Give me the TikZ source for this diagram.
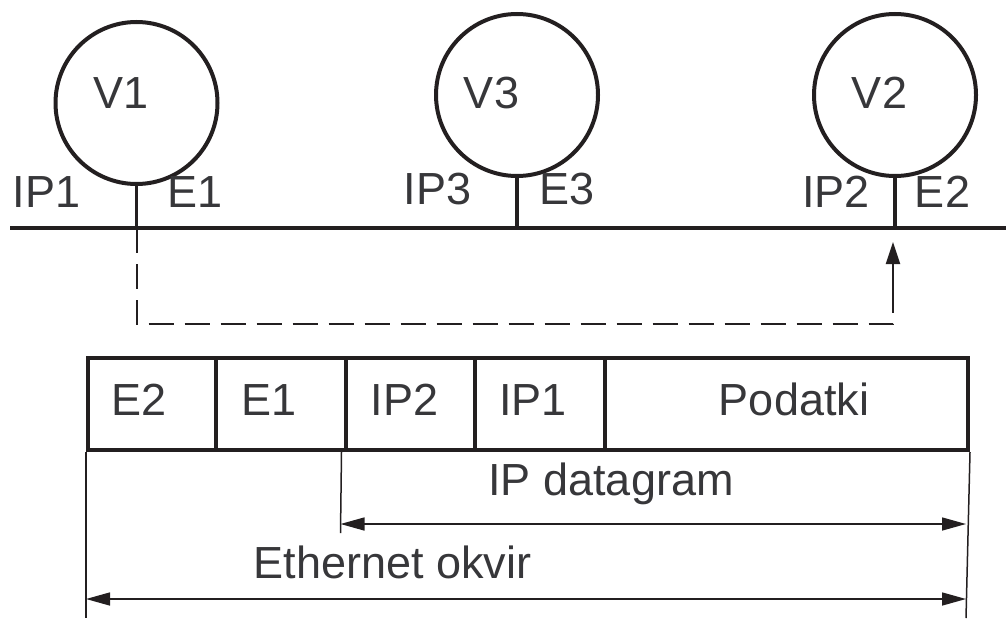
\documentclass[tikz,border=0pt]{standalone}
\usepackage{fontspec}
\setmainfont{Liberation Sans}
\usetikzlibrary{arrows.meta}
\definecolor{ink}{RGB}{35,31,32}
\definecolor{txt}{RGB}{55,55,58}
\tikzset{
  host/.style={circle, draw=ink, line width=4pt, minimum size=162pt, inner sep=0pt},
  lbl/.style={anchor=base, inner sep=0pt, text=txt, font=\fontsize{45}{45}\selectfont},
  field/.style={draw=ink, line width=4pt, minimum height=92pt, inner sep=0pt, anchor=north west},
  busline/.style={draw=ink, line width=4.5pt},
  stem/.style={draw=ink, line width=3.5pt},
  path2/.style={draw=ink, line width=2pt, dash pattern=on 25pt off 11pt},
  dim/.style={draw=ink, line width=1.5pt},
  dimarrow/.style={draw=ink, line width=1.5pt, {Triangle[length=24pt,width=13pt]}-{Triangle[length=24pt,width=13pt]}}
}
\begin{document}
\begin{tikzpicture}[x=1pt, y=-1pt]
\useasboundingbox (0,0) rectangle (1008,618);

% hosts on the segment
\node[host] (v1) at (136.5,103) {};
\node[host] (v3) at (517,95) {};
\node[host] (v2) at (895,95) {};
\node[lbl] (t1) at (121,108) {V1};
\node[lbl] (t3) at (491.5,108) {V3};
\node[lbl] (t2) at (879.5,108) {V2};

% shared Ethernet bus
\coordinate (busL) at (10,228);
\coordinate (busR) at (1006,228);
\draw[busline] (busL) -- (busR);
\coordinate (s1) at (136.5,228);
\coordinate (s3) at (517,228);
\coordinate (s2) at (895,228);
\draw[stem] (v1.south) -- (s1);
\draw[stem] (v3.south) -- (s3);
\draw[stem] (v2.south) -- (s2);

% interface addresses
\node[lbl] (ip1) at (46.5,207) {IP1};
\node[lbl] (e1) at (195.5,207) {E1};
\node[lbl] (ip3) at (437.5,204) {IP3};
\node[lbl] (e3) at (567,204) {E3};
\node[lbl] (ip2) at (836,207) {IP2};
\node[lbl] (e2) at (942.5,207) {E2};

% frame path from V1 to V2
\coordinate (d1) at (136.5,324);
\coordinate (d2) at (893,324);
\coordinate (tip) at (893,242);
\draw[path2] (s1) -- (d1) -- (d2) -- (893,264);
\draw[ink, line width=2pt, -{Triangle[length=22pt,width=14pt]}] (893,288) -- (tip);

% frame fields
\node[field, minimum width=128pt] (f1) at (86,356) {};
\node[field, minimum width=129.5pt] (f2) at (214,356) {};
\node[field, minimum width=129pt] (f3) at (343.5,356) {};
\node[field, minimum width=130.5pt] (f4) at (472.5,356) {};
\node[field, minimum width=363pt] (f5) at (603,356) {};
\node[lbl] (fl1) at (139,415) {E2};
\node[lbl] (fl2) at (269,415) {E1};
\node[lbl] (fl3) at (404.5,415) {IP2};
\node[lbl] (fl4) at (533,415) {IP1};
\node[lbl] (fl5) at (794,415) {Podatki};

% extent markers
\coordinate (m1) at (86,618);
\coordinate (m2) at (340.5,533);
\coordinate (m3) at (966,618);
\draw[dim] (f1.south west) -- (m1);
\draw[dim] (f3.south west) ++(-2,0) -- (m2);
\draw[dim] (f5.south east) -- (m3);
\coordinate (a1) at (340.5,524);
\coordinate (a2) at (966,524);
\coordinate (b1) at (86,599);
\coordinate (b2) at (966,599);
\draw[dimarrow] (a1) -- (a2);
\draw[dimarrow] (b1) -- (b2);
\node[lbl] (ipd) at (611,495) {IP datagram};
\node[lbl] (eth) at (392.5,578) {Ethernet okvir};
\end{tikzpicture}
\end{document}
